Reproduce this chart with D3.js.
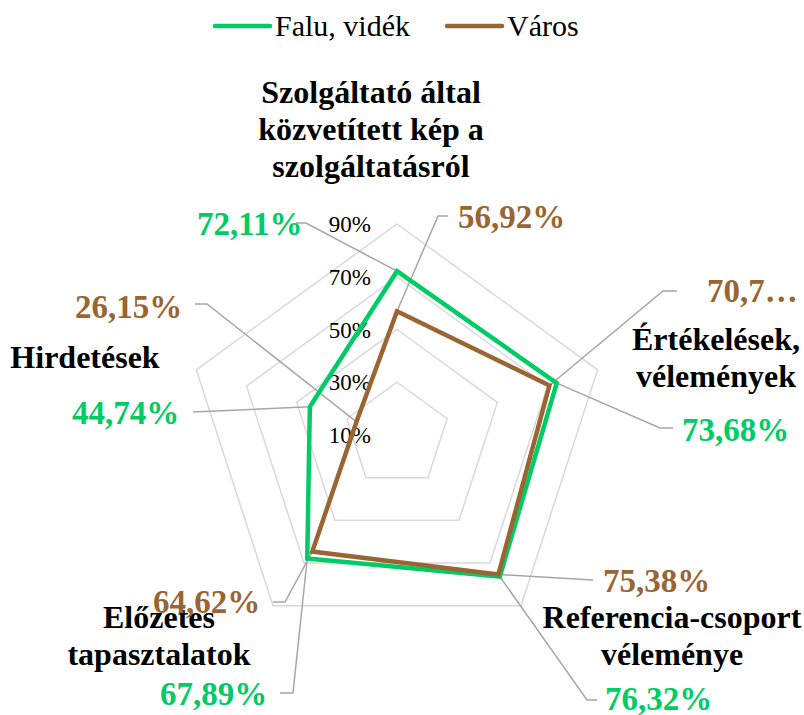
<!DOCTYPE html>
<html>
<head>
<meta charset="utf-8">
<script src="https://cdn.jsdelivr.net/npm/d3@7/dist/d3.min.js"></script>
<style>
  body { margin: 0; background: #fff; }
  svg { display: block; font-family: "Liberation Serif", "Times New Roman", serif; }
</style>
</head>
<body>
<div id="chart"></div>
<script>
// categories, clockwise from the top
var categories = [
  ['Szolgáltató által', 'közvetített kép a', 'szolgáltatásról'],
  ['Értékelések,', 'vélemények'],
  ['Referencia-csoport', 'véleménye'],
  ['Előzetes', 'tapasztalatok'],
  ['Hirdetések']
];
var seriesNames = ['Falu, vidék', 'Város'];
var faluValues = [72.11, 73.68, 76.32, 67.89, 44.74];
var varosValues = [56.92, 70.77, 75.38, 64.62, 26.15];
var tickValues = [10, 30, 50, 70, 90];
var colors = ['#00cc66', '#996633'];

var W = 804, H = 715;
var cx = 397, cy = 435, R = 211;

var svg = d3.select('#chart').append('svg')
  .attr('width', W)
  .attr('height', H);

var r = d3.scaleLinear().domain([10, 90]).range([0, R]);
var angle = d3.scaleLinear().domain([0, categories.length]).range([0, 2 * Math.PI]);

function pt(i, v) {
  var a = angle(i);
  return [cx + r(v) * Math.sin(a), cy - r(v) * Math.cos(a)];
}

// grid pentagons (no ring at the centre value)
svg.append('g').selectAll('polygon')
  .data(tickValues.slice(1))
  .enter()
  .append('polygon')
  .attr('points', function(t) {
    return categories.map(function(c, i) { return pt(i, t).join(','); }).join(' ');
  })
  .attr('fill', 'none')
  .attr('stroke', '#d9d9d9')
  .attr('stroke-width', 1.5);

// tick labels
svg.append('g').selectAll('text')
  .data(tickValues)
  .enter()
  .append('text')
  .attr('x', cx - 26)
  .attr('y', function(t) { return cy - r(t); })
  .attr('dy', '0.35em')
  .attr('text-anchor', 'end')
  .attr('font-size', 23)
  .attr('fill', '#000')
  .text(function(t) { return t + '%'; });

// value labels placement + leader elbows (layout only)
var labelLayout = [
  // Falu, vidék
  [
    { x: 197, y: 235, leader: [[296, 223], [306, 223]] },
    { x: 682, y: 441, leader: [[673, 428], [660, 428]] },
    { x: 605, y: 710, leader: [[597, 700], [587, 700]] },
    { x: 160, y: 705, leader: [[280, 693], [293, 693]] },
    { x: 72,  y: 424, leader: [[193, 412]] }
  ],
  // Város
  [
    { x: 458, y: 228, leader: [[448, 216], [438, 216]] },
    { x: 707, y: 302, leader: [[677, 291], [663, 291]], maxChars: 4 },
    { x: 603, y: 592, leader: [[593, 580]] },
    { x: 153, y: 613, leader: [[273, 602], [285, 602]] },
    { x: 75,  y: 318, leader: [[195, 304], [207, 304]] }
  ]
];

var fmt = function(v) { return d3.format('.2f')(v).replace('.', ',') + '%'; };
var allSeries = [faluValues, varosValues];

// leader lines
var leaders = svg.append('g');
allSeries.forEach(function(vals, s) {
  vals.forEach(function(v, i) {
    var pts = labelLayout[s][i].leader.concat([pt(i, v)]);
    leaders.append('path')
      .attr('d', d3.line()(pts))
      .attr('fill', 'none')
      .attr('stroke', '#a6a6a6')
      .attr('stroke-width', 1.5);
  });
});

// series polygons
var line = d3.lineRadial()
  .angle(function(d, i) { return angle(i); })
  .radius(function(d) { return r(d); })
  .curve(d3.curveLinearClosed);

svg.append('g')
  .attr('transform', 'translate(' + cx + ',' + cy + ')')
  .selectAll('path')
  .data(allSeries)
  .enter()
  .append('path')
  .attr('d', line)
  .attr('fill', 'none')
  .attr('stroke', function(d, i) { return colors[i]; })
  .attr('stroke-width', 4.5)
  .attr('stroke-linejoin', 'miter');

// category labels
var catPos = [
  { x: 371, y: 103 },
  { x: 716, y: 350 },
  { x: 672, y: 628 },
  { x: 159, y: 628 },
  { x: 85,  y: 368 }
];
categories.forEach(function(lines, i) {
  var t = svg.append('text')
    .attr('x', catPos[i].x)
    .attr('y', catPos[i].y)
    .attr('text-anchor', 'middle')
    .attr('font-size', 32)
    .attr('font-weight', 'bold')
    .attr('fill', '#000');
  lines.forEach(function(l, j) {
    t.append('tspan')
      .attr('x', catPos[i].x)
      .attr('dy', j === 0 ? 0 : 37)
      .text(l);
  });
});

// value labels
allSeries.forEach(function(vals, s) {
  svg.append('g').selectAll('text')
    .data(vals)
    .enter()
    .append('text')
    .attr('x', function(d, i) { return labelLayout[s][i].x; })
    .attr('y', function(d, i) { return labelLayout[s][i].y; })
    .attr('font-size', 33)
    .attr('font-weight', 'bold')
    .attr('fill', colors[s])
    .text(function(d, i) {
      var txt = fmt(d);
      var m = labelLayout[s][i].maxChars;
      return m ? txt.slice(0, m) + '\u2026' : txt;
    });
});

// legend
var legendPos = [215, 447];
var legend = svg.append('g');
seriesNames.forEach(function(name, i) {
  legend.append('line')
    .attr('x1', legendPos[i]).attr('x2', legendPos[i] + 55)
    .attr('y1', 26).attr('y2', 26)
    .attr('stroke', colors[i])
    .attr('stroke-width', 4.5)
    .attr('stroke-linecap', 'round');
  legend.append('text')
    .attr('x', legendPos[i] + 60)
    .attr('y', 36)
    .attr('font-size', 30)
    .attr('fill', '#000')
    .text(name);
});
</script>
</body>
</html>
